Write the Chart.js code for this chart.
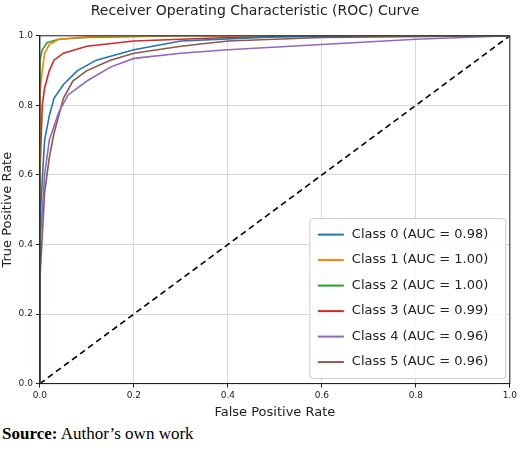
<!DOCTYPE html>
<html>
<head>
<meta charset="utf-8">
<script src="https://cdn.jsdelivr.net/npm/chart.js@4"></script>
<style>
  body { margin: 0; background: #fff; }
  #wrap { position: relative; width: 520px; height: 424px; }
  #src { font-family: "Liberation Serif", serif; font-size: 17px; margin: 0 0 0 2px; }
</style>
</head>
<body>
<div id="wrap"><canvas id="roc"></canvas></div>
<div id="src"><b>Source:</b> Author’s own work</div>
<script>
const classLabels = ["Class 0 (AUC = 0.98)", "Class 1 (AUC = 1.00)", "Class 2 (AUC = 1.00)",
  "Class 3 (AUC = 0.99)", "Class 4 (AUC = 0.96)", "Class 5 (AUC = 0.96)"];
const classColors = ["#1f77b4", "#ff7f0e", "#2ca02c", "#d62728", "#9467bd", "#8c564b"];

const fpr0 = [0, 0, 0.01, 0.02, 0.03, 0.05, 0.08, 0.12, 0.2, 0.3, 0.5, 0.7, 1];
const tpr0 = [0, 0.47, 0.7, 0.77, 0.82, 0.86, 0.9, 0.93, 0.96, 0.985, 0.997, 1, 1];
const fpr1 = [0, 0, 0.005, 0.01, 0.02, 0.04, 0.1, 0.3, 1];
const tpr1 = [0, 0.835, 0.9, 0.95, 0.975, 0.99, 0.997, 1, 1];
const fpr2 = [0, 0, 0.005, 0.015, 0.04, 0.1, 0.3, 1];
const tpr2 = [0, 0.93, 0.96, 0.98, 0.99, 0.995, 1, 1];
const fpr3 = [0, 0, 0.005, 0.01, 0.02, 0.03, 0.05, 0.1, 0.2, 0.4, 0.6, 1];
const tpr3 = [0, 0.6, 0.8, 0.85, 0.9, 0.93, 0.95, 0.97, 0.985, 0.995, 1, 1];
const fpr4 = [0, 0, 0.01, 0.02, 0.04, 0.06, 0.1, 0.15, 0.2, 0.3, 0.4, 0.6, 0.8, 1];
const tpr4 = [0, 0.4, 0.6, 0.7, 0.78, 0.83, 0.87, 0.91, 0.935, 0.95, 0.96, 0.975, 0.99, 1];
const fpr5 = [0, 0, 0.01, 0.02, 0.03, 0.05, 0.07, 0.1, 0.15, 0.2, 0.3, 0.4, 0.6, 1];
const tpr5 = [0, 0.3, 0.55, 0.65, 0.72, 0.82, 0.87, 0.9, 0.93, 0.95, 0.97, 0.985, 0.995, 1];
const diagonal = [0, 1];
const axisTicks = [0, 0.2, 0.4, 0.6, 0.8, 1.0];

const fprs = [fpr0, fpr1, fpr2, fpr3, fpr4, fpr5];
const tprs = [tpr0, tpr1, tpr2, tpr3, tpr4, tpr5];

const datasets = fprs.map((f, i) => ({
  label: classLabels[i],
  data: f.map((x, j) => ({ x, y: tprs[i][j] })),
  borderColor: classColors[i],
  borderWidth: 1.6,
  pointRadius: 0,
  tension: 0,
}));
datasets.push({
  label: "",
  data: diagonal.map(v => ({ x: v, y: v })),
  borderColor: "#000",
  borderDash: [6, 4],
  borderWidth: 1.6,
  pointRadius: 0,
});

// legend box inside the lower-right of the plot, plus a full frame around the axes
const innerLegend = {
  id: "innerLegend",
  afterDraw(chart) {
    const { ctx, chartArea: a } = chart;
    ctx.save();
    ctx.strokeStyle = "#222";
    ctx.lineWidth = 1;
    ctx.strokeRect(a.left, a.top, a.right - a.left, a.bottom - a.top);
    const w = 196, h = 160, x = a.right - w - 4, y = a.bottom - h - 5;
    ctx.fillStyle = "rgba(255,255,255,0.85)";
    ctx.strokeStyle = "#ccc";
    ctx.beginPath();
    ctx.roundRect(x, y, w, h, 3);
    ctx.fill();
    ctx.stroke();
    ctx.font = "13px 'DejaVu Sans'";
    ctx.textBaseline = "middle";
    classLabels.forEach((lab, i) => {
      const ly = y + 16 + i * 25.5;
      ctx.strokeStyle = classColors[i];
      ctx.lineWidth = 2;
      ctx.beginPath();
      ctx.moveTo(x + 8, ly);
      ctx.lineTo(x + 34, ly);
      ctx.stroke();
      ctx.fillStyle = "#222";
      ctx.fillText(lab, x + 42, ly);
    });
    ctx.restore();
  }
};

const tickFont = { family: "DejaVu Sans", size: 9 };
const titleFont = { family: "DejaVu Sans", size: 13 };
new Chart(document.getElementById("roc"), {
  type: "line",
  data: { datasets },
  plugins: [innerLegend],
  options: {
    responsive: true,
    maintainAspectRatio: false,
    animation: false,
    layout: { padding: { left: 0, right: 10, top: 0, bottom: 4 } },
    plugins: {
      legend: { display: false },
      tooltip: { enabled: false },
      title: {
        display: true,
        text: "Receiver Operating Characteristic (ROC) Curve",
        color: "#222",
        font: { family: "DejaVu Sans", size: 14, weight: "normal" },
        padding: { top: 3, bottom: 16 },
      },
    },
    scales: {
      x: {
        type: "linear", min: 0, max: 1,
        afterBuildTicks: s => { s.ticks = axisTicks.map(v => ({ value: v })); },
        ticks: { color: "#222", font: tickFont, callback: v => v.toFixed(1), maxRotation: 0 },
        grid: { color: "#d8d8d8", tickLength: 4, tickColor: "#222" },
        border: { color: "#222" },
        title: { display: true, text: "False Positive Rate", color: "#222", font: titleFont, padding: 0 },
      },
      y: {
        type: "linear", min: 0, max: 1,
        afterBuildTicks: s => { s.ticks = axisTicks.map(v => ({ value: v })); },
        ticks: { color: "#222", font: tickFont, callback: v => v.toFixed(1) },
        grid: { color: "#d8d8d8", tickLength: 4, tickColor: "#222" },
        border: { color: "#222" },
        title: { display: true, text: "True Positive Rate", color: "#222", font: titleFont, padding: 0 },
      },
    },
  },
});
</script>
</body>
</html>
